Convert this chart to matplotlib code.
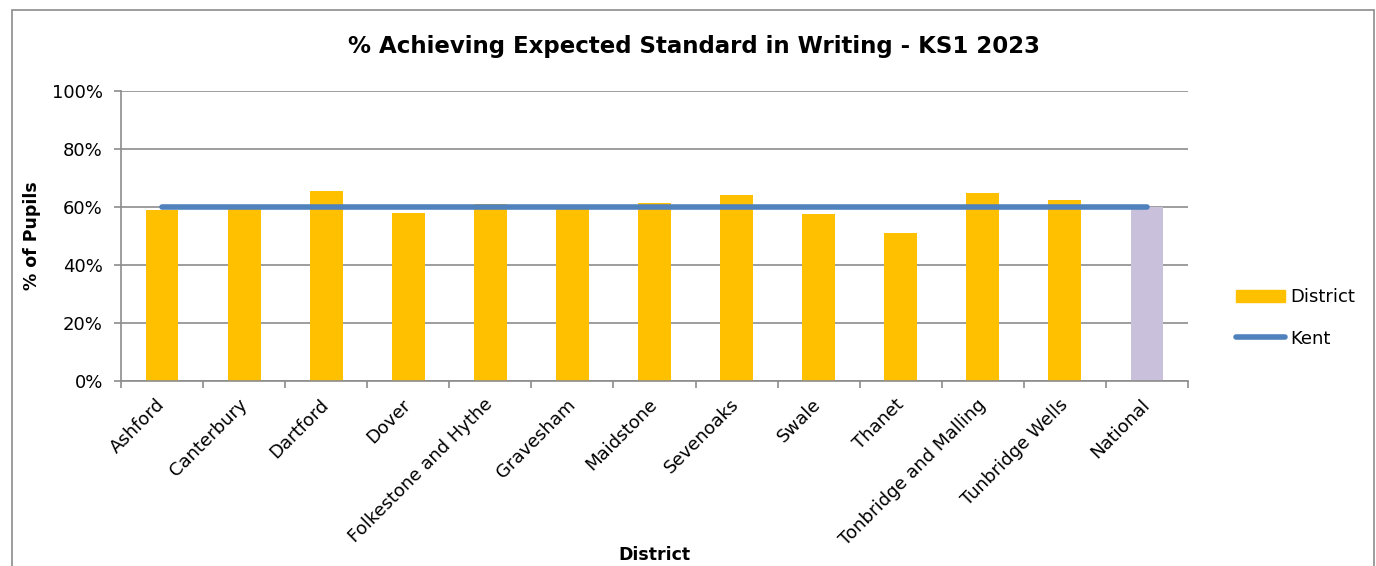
import matplotlib.pyplot as plt
import matplotlib.patches as mpatches
from matplotlib.ticker import FuncFormatter, MultipleLocator
import numpy as np

districts = ['Ashford', 'Canterbury', 'Dartford', 'Dover', 'Folkestone and Hythe',
             'Gravesham', 'Maidstone', 'Sevenoaks', 'Swale', 'Thanet',
             'Tonbridge and Malling', 'Tunbridge Wells', 'National']
district_pct = [59, 60, 65.4, 57.8, 61, 60, 61.3, 64, 57.6, 51, 64.8, 62.5, 60]
kent_pct = [60] * len(districts)

BAR_COL = '#FFC000'
NAT_COL = '#C9C0DB'
KENT_COL = '#4F81BD'
GRID_COL = '#8C8C8C'

plt.rcParams['font.family'] = ['DejaVu Sans']

fig = plt.figure(figsize=(13.76, 5.66), dpi=100)
ax = fig.add_axes([121 / 1376, 1 - 381 / 566, (1188 - 121) / 1376, (381 - 91) / 566])

# outer chart border
fig.patches.append(mpatches.Rectangle((12 / 1376, -0.1), (1374 - 12) / 1376, 1.1 - 10 / 566,
                                      transform=fig.transFigure, fill=False,
                                      edgecolor='#8C8C8C', lw=1.2))

x = np.arange(len(districts))
cols = [BAR_COL] * (len(districts) - 1) + [NAT_COL]
ax.bar(x, district_pct, width=0.4, color=cols, zorder=2)
ax.plot(x, kent_pct, color=KENT_COL, lw=4, solid_capstyle='round', zorder=3)

ax.set_xlim(-0.5, len(districts) - 0.5)
ax.set_ylim(0, 100)
ax.yaxis.set_major_locator(MultipleLocator(20))
ax.yaxis.set_major_formatter(FuncFormatter(lambda v, p: f'{v:.0f}%'))
ax.grid(axis='y', color=GRID_COL, lw=1.2, zorder=1)

ax.set_xticks(np.arange(-0.5, len(districts)), minor=False)
ax.set_xticklabels([])
ax.set_xticks(x, minor=True)
ax.set_xticklabels(districts, minor=True, rotation=45, ha='right', va='center',
                   rotation_mode='anchor', fontsize=13)
ax.tick_params(axis='x', which='minor', length=0, pad=15)
ax.tick_params(axis='x', which='major', length=5, color=GRID_COL, width=1.2)
ax.tick_params(axis='y', length=5, color=GRID_COL, width=1.2, labelsize=13, pad=8)

for s in ['top', 'right']:
    ax.spines[s].set_visible(False)
for s in ['left', 'bottom']:
    ax.spines[s].set_color(GRID_COL)
    ax.spines[s].set_linewidth(1.2)

ax.set_ylabel('% of Pupils', fontsize=12.5, fontweight='bold', labelpad=8)
fig.text(654 / 1376, 1 - 555 / 566, 'District', ha='center', va='center',
         fontsize=12.5, fontweight='bold')
fig.text(694 / 1376, 1 - 47 / 566, '% Achieving Expected Standard in Writing - KS1 2023',
         ha='center', va='center', fontsize=16.5, fontweight='bold')

handles = [mpatches.Patch(color=BAR_COL),
           plt.Line2D([], [], color=KENT_COL, lw=4, solid_capstyle='round')]
fig.legend(handles, ['District', 'Kent'], loc='center left',
           bbox_to_anchor=(1220 / 1376, 1 - 318 / 566), frameon=False,
           fontsize=13, handlelength=2.7, handletextpad=0.3, labelspacing=1.3)

fig.savefig('out.png', dpi=100)
